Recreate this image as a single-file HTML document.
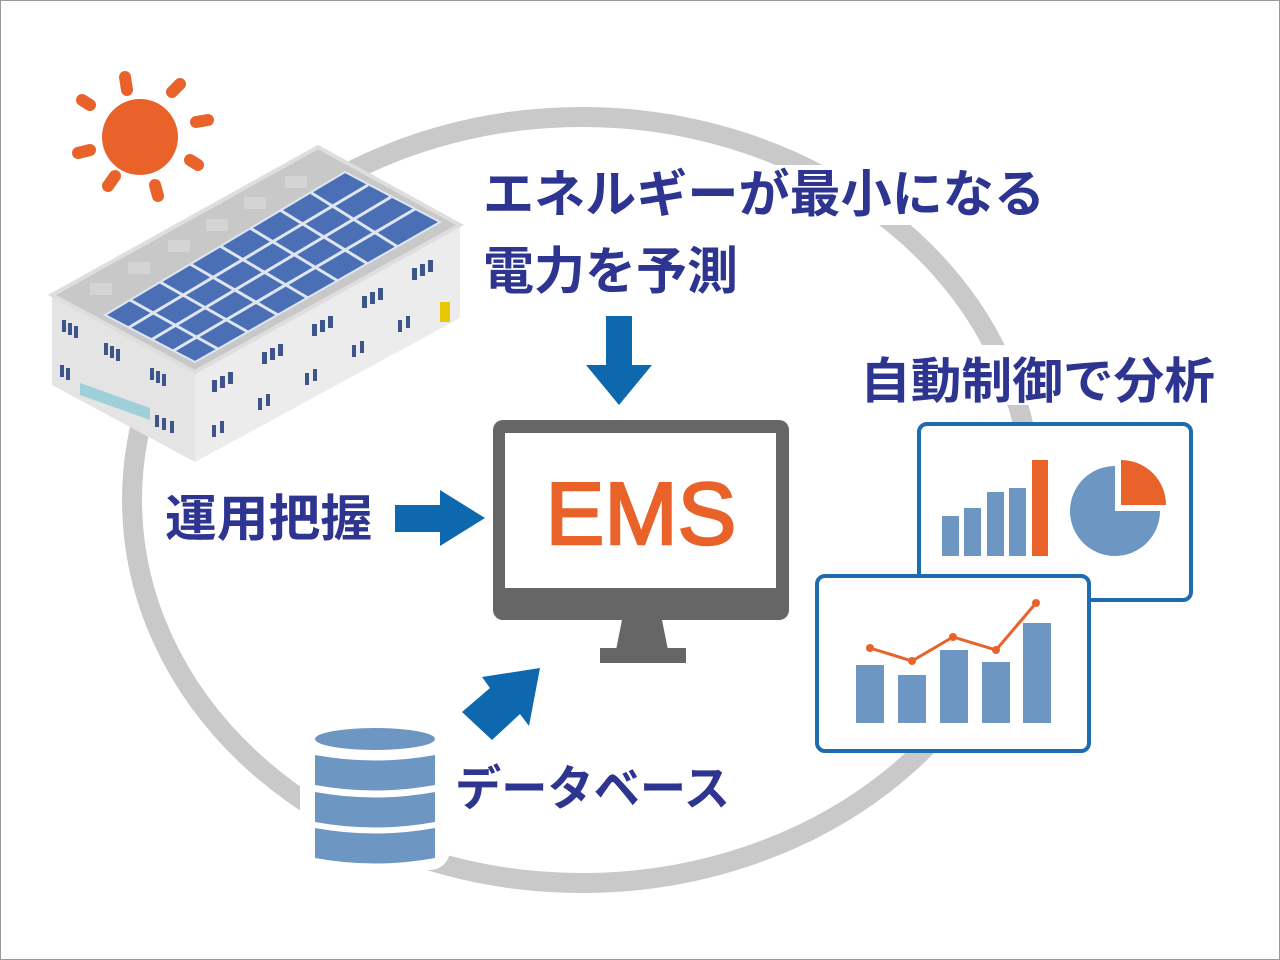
<!DOCTYPE html>
<html><head><meta charset="utf-8"><style>
html,body{margin:0;padding:0;background:#fff;}
svg{display:block;}
text{font-family:"Liberation Sans","Noto Sans CJK JP",sans-serif;}
</style></head><body>
<svg width="1280" height="960" viewBox="0 0 1280 960" xmlns="http://www.w3.org/2000/svg">
<rect x="0.5" y="0.5" width="1279" height="959" fill="#fff" stroke="#9a9a9a"/>
<!-- ring -->
<ellipse cx="582" cy="500" rx="450" ry="383" fill="none" stroke="#c9c9c9" stroke-width="20"/>
<!-- white halos -->
<rect x="478" y="165" width="572" height="60" fill="#fff"/>
<rect x="478" y="240" width="265" height="62" fill="#fff"/>
<rect x="850" y="345" width="370" height="60" fill="#fff"/>
<rect x="300" y="720" width="150" height="150" rx="20" fill="#fff"/>
<rect x="450" y="755" width="290" height="60" fill="#fff"/>
<!-- sun -->
<g fill="#e8622a">
<circle cx="140" cy="137" r="38"/>
<g stroke="#e8622a" stroke-width="12" stroke-linecap="round">
<line x1="125" y1="77" x2="127" y2="90"/>
<line x1="78" y1="153" x2="90" y2="150"/>
<line x1="108" y1="186" x2="115" y2="176"/>
<line x1="155" y1="185" x2="158" y2="196"/>
<line x1="190" y1="160" x2="198" y2="165"/>
<line x1="196" y1="122" x2="208" y2="120"/>
<line x1="90" y1="105" x2="82" y2="100"/>
<line x1="172" y1="92" x2="180" y2="84"/>
</g></g>
<!-- factory -->
<polygon points="52,295 195,372 195,462 52,385" fill="#e4e4e4"/>
<polygon points="195,372 460,225 460,318 195,462" fill="#ececec"/>
<polygon points="52,295 318,147 460,225 195,372" fill="#c8c8c8" stroke="#dedede" stroke-width="4"/>
<polygon points="105,315 345,172 440,222 195,362" fill="#4a6fb5" stroke="#dfe6f3" stroke-width="2"/>
<g stroke="#dfe6f3" stroke-width="3">
<line x1="130" y1="300" x2="218" y2="349"/>
<line x1="160" y1="282" x2="248" y2="332"/>
<line x1="190" y1="264" x2="278" y2="315"/>
<line x1="220" y1="246" x2="308" y2="298"/>
<line x1="250" y1="228" x2="338" y2="281"/>
<line x1="280" y1="210" x2="368" y2="264"/>
<line x1="310" y1="192" x2="398" y2="247"/>
<line x1="128" y1="328" x2="368" y2="185"/>
<line x1="151" y1="340" x2="391" y2="197"/>
<line x1="173" y1="351" x2="415" y2="209"/>
</g>
<g fill="#d4d4d4"><rect x="90" y="283" width="22" height="12"/><rect x="128" y="262" width="22" height="12"/><rect x="168" y="240" width="22" height="12"/><rect x="206" y="219" width="22" height="12"/><rect x="244" y="197" width="22" height="12"/><rect x="285" y="176" width="22" height="12"/></g>
<g fill="#3d5588">
<rect x="62" y="320" width="4" height="12"/><rect x="68" y="323" width="4" height="12"/><rect x="74" y="326" width="4" height="12"/>
<rect x="104" y="343" width="4" height="12"/><rect x="110" y="346" width="4" height="12"/><rect x="116" y="349" width="4" height="12"/>
<rect x="150" y="368" width="4" height="12"/><rect x="156" y="371" width="4" height="12"/><rect x="162" y="374" width="4" height="12"/>
<rect x="60" y="365" width="4" height="12"/><rect x="66" y="368" width="4" height="12"/>
<rect x="155" y="415" width="4" height="12"/><rect x="162" y="418" width="4" height="12"/><rect x="170" y="421" width="4" height="12"/>
<rect x="212" y="380" width="5" height="12"/><rect x="220" y="376" width="5" height="12"/><rect x="228" y="372" width="5" height="12"/>
<rect x="262" y="352" width="5" height="12"/><rect x="270" y="348" width="5" height="12"/><rect x="278" y="344" width="5" height="12"/>
<rect x="312" y="324" width="5" height="12"/><rect x="320" y="320" width="5" height="12"/><rect x="328" y="316" width="5" height="12"/>
<rect x="362" y="296" width="5" height="12"/><rect x="370" y="292" width="5" height="12"/><rect x="378" y="288" width="5" height="12"/>
<rect x="412" y="268" width="5" height="12"/><rect x="420" y="264" width="5" height="12"/><rect x="428" y="260" width="5" height="12"/>
<rect x="212" y="425" width="4" height="12"/><rect x="220" y="421" width="4" height="12"/>
<rect x="258" y="398" width="4" height="12"/><rect x="266" y="394" width="4" height="12"/>
<rect x="305" y="373" width="4" height="12"/><rect x="313" y="369" width="4" height="12"/>
<rect x="352" y="345" width="4" height="12"/><rect x="360" y="341" width="4" height="12"/>
<rect x="398" y="320" width="4" height="12"/><rect x="406" y="316" width="4" height="12"/>
</g>
<rect x="440" y="302" width="10" height="20" fill="#e8c600"/>
<polygon points="80,383 150,408 150,420 80,395" fill="#9fd0da"/>
<!-- arrows -->
<polygon points="606,316 632,316 632,365 652,365 619,405 586,365 606,365" fill="#0e68ad"/>
<polygon points="395,505 440,505 440,490 485,518 440,546 440,532 395,532" fill="#0e68ad"/>
<polygon points="462,712 490,688 482,677 540,668 529,726 520,714 492,740" fill="#0e68ad"/>
<!-- monitor -->
<rect x="493" y="420" width="296" height="200" rx="10" fill="#666"/>
<rect x="505" y="433" width="271" height="155" fill="#fff"/>
<polygon points="622,620 662,620 668,650 616,650" fill="#666"/>
<rect x="600" y="648" width="86" height="15" fill="#666"/>
<text x="641" y="544" text-anchor="middle" font-size="88" fill="#e8622a" stroke="#e8622a" stroke-width="2.5" font-family="Liberation Sans,sans-serif">EMS</text>
<!-- database -->
<g fill="#6e96c2">
<ellipse cx="375" cy="739" rx="60" ry="11"/>
<path d="M315,755 Q375,766 435,755 L435,785 Q375,796 315,785Z"/>
<path d="M315,792 Q375,803 435,792 L435,822 Q375,833 315,822Z"/>
<path d="M315,828 Q375,839 435,828 L435,858 Q375,869 315,858Z"/>
</g>
<!-- charts -->
<rect x="919" y="424" width="272" height="176" rx="8" fill="#fff" stroke="#1e6cb0" stroke-width="4"/>
<g fill="#6e96c2">
<rect x="942" y="516" width="17" height="40"/><rect x="964" y="508" width="17" height="48"/><rect x="987" y="492" width="17" height="64"/><rect x="1009" y="488" width="17" height="68"/>
</g>
<rect x="1032" y="460" width="16" height="96" fill="#e8622a"/>
<path d="M1115,466 A45,45 0 1 0 1160,511 L1115,511Z" fill="#6e96c2"/>
<path d="M1121,460 A45,45 0 0 1 1166,505 L1121,505Z" fill="#e8622a"/>
<rect x="817" y="576" width="272" height="175" rx="8" fill="#fff" stroke="#1e6cb0" stroke-width="4"/>
<g fill="#6e96c2">
<rect x="856" y="665" width="28" height="58"/><rect x="898" y="675" width="28" height="48"/><rect x="940" y="650" width="28" height="73"/><rect x="982" y="662" width="28" height="61"/><rect x="1023" y="623" width="28" height="100"/>
</g>
<polyline points="870,648 912,661 953,637 996,650 1036,603" fill="none" stroke="#e8622a" stroke-width="3"/>
<g fill="#e8622a"><circle cx="870" cy="648" r="4"/><circle cx="912" cy="661" r="4"/><circle cx="953" cy="637" r="4"/><circle cx="996" cy="650" r="4"/><circle cx="1036" cy="603" r="4"/></g>
<!-- text -->
<g fill="#2e3591" font-weight="bold">
<text x="483" y="212" font-size="51" textLength="562" lengthAdjust="spacingAndGlyphs">エネルギーが最小になる</text>
<text x="483" y="289" font-size="51" textLength="255" lengthAdjust="spacingAndGlyphs">電力を予測</text>
<text x="860" y="398" font-size="49" textLength="355" lengthAdjust="spacingAndGlyphs">自動制御で分析</text>
<text x="165" y="536" font-size="50" textLength="207" lengthAdjust="spacingAndGlyphs">運用把握</text>
<text x="455" y="805" font-size="48" textLength="275" lengthAdjust="spacingAndGlyphs">データベース</text>
</g>
</svg>
</body></html>
